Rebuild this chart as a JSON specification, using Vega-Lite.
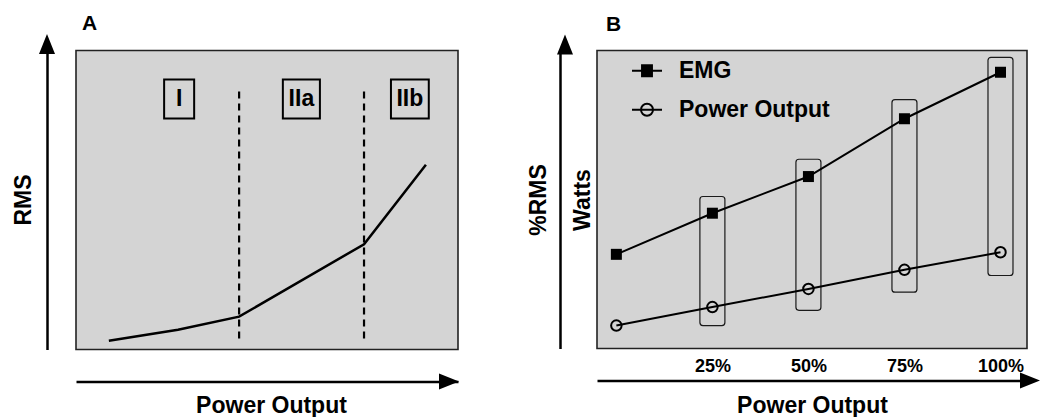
{
  "$schema": "https://vega.github.io/schema/vega-lite/v6.json",
  "background": "white",
  "padding": {"left": 11, "top": 11.5, "right": 0, "bottom": 0},
  "spacing": 66,
  "resolve": {
    "scale": {"shape": "independent", "fill": "independent"},
    "legend": {"shape": "independent", "fill": "independent"}
  },
  "datasets": {
    "curveA": [
      {"power": 8.6, "rms": 2.9},
      {"power": 26.7, "rms": 6.6},
      {"power": 42.7, "rms": 11.0},
      {"power": 75.4, "rms": 35.2},
      {"power": 91.6, "rms": 61.8}
    ],
    "boundsA": [{"power": 42.7}, {"power": 75.4}],
    "phasesA": [
      {"phase": "I", "power": 27.0, "rms": 83.8},
      {"phase": "IIa", "power": 59.0, "rms": 83.8},
      {"phase": "IIb", "power": 87.4, "rms": 83.8}
    ],
    "seriesB": [
      {"level": 0, "series": "EMG", "value": 31.6},
      {"level": 25, "series": "EMG", "value": 45.4},
      {"level": 50, "series": "EMG", "value": 57.7},
      {"level": 75, "series": "EMG", "value": 77.1},
      {"level": 100, "series": "EMG", "value": 92.7},
      {"level": 0, "series": "Power Output", "value": 7.7},
      {"level": 25, "series": "Power Output", "value": 13.9},
      {"level": 50, "series": "Power Output", "value": 20.0},
      {"level": 75, "series": "Power Output", "value": 26.4},
      {"level": 100, "series": "Power Output", "value": 32.3}
    ],
    "rangesB": [
      {"level": 25, "lo": 7.7, "hi": 51.0},
      {"level": 50, "lo": 12.8, "hi": 63.5},
      {"level": 75, "lo": 18.9, "hi": 83.5},
      {"level": 100, "lo": 24.5, "hi": 97.7}
    ],
    "anchor": [{"id": 1}]
  },
  "config": {
    "font": "Liberation Sans",
    "view": {"fill": "#d4d4d4", "stroke": "#222222", "strokeWidth": 1.6},
    "axis": {
      "grid": false, "ticks": false, "tickSize": 0,
      "domainColor": "black", "domainWidth": 2.5,
      "titleFont": "Liberation Sans", "titleFontSize": 23, "titleFontWeight": "bold", "titleColor": "black",
      "labelFont": "Liberation Sans", "labelFontSize": 18, "labelFontWeight": "bold", "labelColor": "black"
    },
    "legend": {
      "padding": 0, "symbolSize": 900, "symbolStrokeWidth": 2, "symbolStrokeColor": "black",
      "labelFont": "Liberation Sans", "labelFontSize": 23, "labelFontWeight": "bold", "labelColor": "black",
      "labelOffset": 16, "rowPadding": 11, "labelLimit": 400, "symbolOpacity": 1
    },
    "title": {"font": "Liberation Sans", "fontSize": 21, "fontWeight": "bold", "color": "black", "anchor": "start", "frame": "group", "baseline": "alphabetic"}
  },
  "hconcat": [
    {
      "width": 382,
      "height": 299,
      "title": {"text": "A", "dx": 6, "offset": 0},
      "layer": [
        {
          "data": {"name": "boundsA"},
          "mark": {"type": "rule", "strokeDash": [7, 5], "strokeWidth": 2.2, "color": "black"},
          "encoding": {
            "x": {"field": "power", "type": "quantitative"},
            "y": {"datum": 3.7, "type": "quantitative"},
            "y2": {"datum": 86.6}
          }
        },
        {
          "data": {"name": "curveA"},
          "mark": {"type": "line", "color": "black", "strokeWidth": 2.5},
          "encoding": {
            "x": {
              "field": "power", "type": "quantitative",
              "scale": {"domain": [0, 100], "nice": false, "zero": false},
              "axis": {"orient": "bottom", "offset": 32, "labels": false, "title": "Power Output", "titleX": 195, "titleY": 31, "titleBaseline": "alphabetic", "titleAlign": "center"}
            },
            "y": {
              "field": "rms", "type": "quantitative",
              "scale": {"domain": [0, 100], "nice": false, "zero": false},
              "axis": {"orient": "left", "offset": 29, "labels": false, "title": "RMS", "titleX": -17, "titleY": 149, "titleBaseline": "alphabetic", "titleAngle": 270, "titleAlign": "center"}
            }
          }
        },
        {
          "data": {"name": "phasesA"},
          "mark": {"type": "point", "filled": false, "stroke": "black", "strokeWidth": 2, "size": 1521, "opacity": 1},
          "encoding": {
            "x": {"field": "power", "type": "quantitative"},
            "y": {"field": "rms", "type": "quantitative"},
            "shape": {
              "field": "phase", "type": "nominal",
              "scale": {"domain": ["I", "IIa", "IIb"], "range": ["M-0.77,-1H0.77V1H-0.77Z", "M-0.95,-1H0.95V1H-0.95Z", "M-0.97,-1H0.97V1H-0.97Z"]},
              "legend": null
            }
          }
        },
        {
          "data": {"name": "phasesA"},
          "mark": {"type": "text", "font": "Liberation Sans", "fontSize": 23, "fontWeight": "bold", "color": "black", "baseline": "middle", "align": "center"},
          "encoding": {
            "x": {"field": "power", "type": "quantitative"},
            "y": {"field": "rms", "type": "quantitative"},
            "text": {"field": "phase", "type": "nominal"}
          }
        },
        {
          "data": {"name": "anchor"},
          "mark": {"type": "point", "shape": "M0,-1L0.8,1L-0.8,1Z", "size": 400, "filled": true, "color": "black", "opacity": 1, "strokeWidth": 0, "xOffset": -29, "yOffset": -6.5},
          "encoding": {
            "x": {"datum": 0, "type": "quantitative"},
            "y": {"datum": 100, "type": "quantitative"}
          }
        },
        {
          "data": {"name": "anchor"},
          "mark": {"type": "point", "shape": "M1,0L-1,0.8L-1,-0.8Z", "size": 400, "filled": true, "color": "black", "opacity": 1, "strokeWidth": 0, "xOffset": -9, "yOffset": 32},
          "encoding": {
            "x": {"datum": 100, "type": "quantitative"},
            "y": {"datum": 0, "type": "quantitative"}
          }
        }
      ]
    },
    {
      "width": 430,
      "height": 298,
      "title": {"text": "B", "dx": 9, "offset": 0},
      "layer": [
        {
          "data": {"name": "rangesB"},
          "mark": {"type": "bar", "size": 25, "fill": "transparent", "stroke": "#1a1a1a", "strokeWidth": 1.2, "cornerRadius": 3},
          "encoding": {
            "x": {"field": "level", "type": "quantitative"},
            "y": {"field": "lo", "type": "quantitative"},
            "y2": {"field": "hi"}
          }
        },
        {
          "data": {"name": "seriesB"},
          "mark": {"type": "line", "color": "black", "strokeWidth": 2},
          "encoding": {
            "x": {
              "field": "level", "type": "quantitative",
              "scale": {"domain": [-3.74, 105.6], "nice": false, "zero": false},
              "axis": {"orient": "bottom", "offset": 32, "values": [25, 50, 75, 100], "labelExpr": "datum.value + '%'", "labelPadding": -14, "labelBaseline": "middle", "labelFlush": false, "labelOverlap": false, "title": "Power Output", "titleY": 32, "titleBaseline": "alphabetic", "titleAlign": "center"}
            },
            "y": {
              "field": "value", "type": "quantitative",
              "scale": {"domain": [0, 100], "nice": false, "zero": false},
              "axis": {"orient": "left", "offset": 37, "labels": false, "title": ["%RMS", "Watts"], "titleX": -15, "titleY": 149, "titleBaseline": "alphabetic", "titleAngle": 270, "titleAlign": "center", "titleLineHeight": 44}
            },
            "detail": {"field": "series", "type": "nominal"}
          }
        },
        {
          "data": {"name": "seriesB"},
          "transform": [{"filter": "datum.series === 'EMG'"}],
          "mark": {"type": "point", "shape": "square", "size": 121, "filled": true, "color": "black", "opacity": 1, "strokeWidth": 0},
          "encoding": {
            "x": {"field": "level", "type": "quantitative"},
            "y": {"field": "value", "type": "quantitative"}
          }
        },
        {
          "data": {"name": "seriesB"},
          "transform": [{"filter": "datum.series === 'Power Output'"}],
          "mark": {"type": "point", "shape": "circle", "size": 110, "filled": false, "stroke": "black", "strokeWidth": 2, "opacity": 1},
          "encoding": {
            "x": {"field": "level", "type": "quantitative"},
            "y": {"field": "value", "type": "quantitative"}
          }
        },
        {
          "data": {"name": "seriesB"},
          "mark": {"type": "point", "filled": true, "opacity": 0, "stroke": "black", "strokeWidth": 2},
          "encoding": {
            "x": {"field": "level", "type": "quantitative"},
            "y": {"field": "value", "type": "quantitative"},
            "shape": {
              "field": "series", "type": "nominal",
              "scale": {"domain": ["EMG", "Power Output"], "range": ["M-1,0H1M-0.33,-0.37H0.33V0.37H-0.33Z", "M-1,0H1M-0.4,0A0.4,0.4,0,1,1,0.4,0A0.4,0.4,0,1,1,-0.4,0Z"]},
              "legend": {"orient": "none", "legendX": 34, "legendY": 4.3, "title": null, "encode": {"symbols": {"update": {"stroke": {"value": "black"}, "strokeWidth": {"value": 2}, "opacity": {"value": 1}}}}}
            },
            "fill": {
              "field": "series", "type": "nominal",
              "scale": {"domain": ["EMG", "Power Output"], "range": ["black", "transparent"]},
              "legend": {"orient": "none", "legendX": 34, "legendY": 4.3, "title": null, "encode": {"symbols": {"update": {"stroke": {"value": "black"}, "strokeWidth": {"value": 2}, "opacity": {"value": 1}}}}}
            }
          }
        },
        {
          "data": {"name": "anchor"},
          "mark": {"type": "point", "shape": "M0,-1L0.8,1L-0.8,1Z", "size": 400, "filled": true, "color": "black", "opacity": 1, "strokeWidth": 0, "xOffset": -37, "yOffset": -6},
          "encoding": {
            "x": {"datum": -3.74, "type": "quantitative"},
            "y": {"datum": 100, "type": "quantitative"}
          }
        },
        {
          "data": {"name": "anchor"},
          "mark": {"type": "point", "shape": "M1,0L-1,0.8L-1,-0.8Z", "size": 400, "filled": true, "color": "black", "opacity": 1, "strokeWidth": 0, "xOffset": 8, "yOffset": 32},
          "encoding": {
            "x": {"datum": 105.6, "type": "quantitative"},
            "y": {"datum": 0, "type": "quantitative"}
          }
        }
      ]
    }
  ]
}
